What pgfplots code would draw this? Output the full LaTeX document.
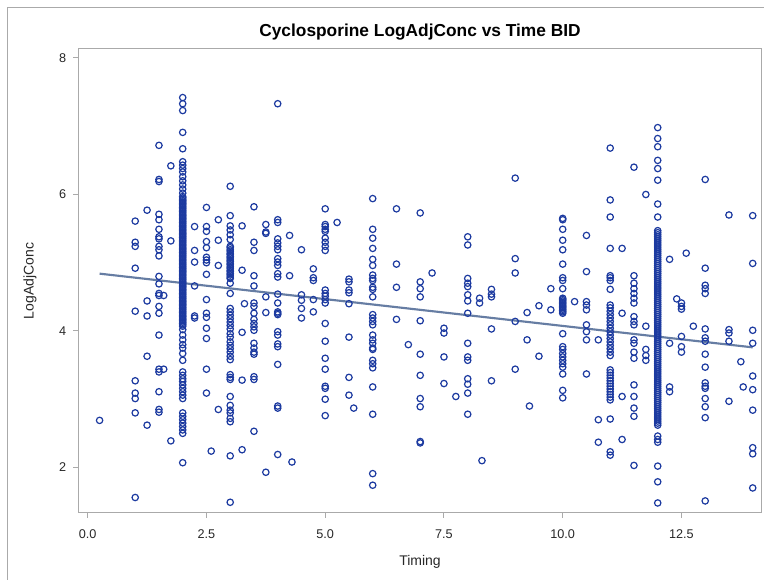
\documentclass[border=0pt]{standalone}
\usepackage{pgfplots}
\pgfplotsset{compat=1.18}
\usepackage{fontspec}
\setmainfont{Liberation Sans}
\definecolor{markblue}{RGB}{28,58,160}
\definecolor{fitline}{RGB}{102,125,163}
\definecolor{framegray}{RGB}{170,170,170}
\definecolor{labelgray}{RGB}{40,40,40}

\begin{document}
\begin{tikzpicture}[x=1pt,y=1pt]
\useasboundingbox[fill=white] (-58.875,-50.25) rectangle (514.125,384.75);
% graph border (left and top edges)
\draw[framegray, line width=0.75pt] (-52.875,-50.25) -- (-52.875,378.75) -- (514.125,378.75);
\begin{axis}[
  at={(0,0)}, anchor=south west,
  scale only axis, width=512.25pt, height=348pt,
  xmin=-0.194, xmax=14.185, ymin=1.333, ymax=8.132,
  xtick={0,2.5,5,7.5,10,12.5},
  xticklabels={0.0,2.5,5.0,7.5,10.0,12.5},
  ytick={2,4,6,8}, yticklabels={2,4,6,8},
  xtick pos=left, ytick pos=left,
  tick align=outside, major tick length=3.75pt,
  axis line style={framegray, line width=0.75pt},
  tick style={framegray, line width=0.75pt},
  ticklabel style={font=\fontsize{9.5}{11}\selectfont, text=labelgray},
  xticklabel style={yshift=-5.5pt},
  yticklabel style={xshift=-2pt},
  xlabel={Timing}, ylabel={LogAdjConc},
  label style={font=\fontsize{10.5}{12}\selectfont, text=labelgray},
  xlabel style={at={(axis description cs:0.5,0)}, anchor=center, yshift=-36.5pt},
  ylabel style={at={(axis description cs:0,0.5)}, anchor=center, yshift=36.4pt},
  title={Cyclosporine LogAdjConc vs Time BID},
  title style={font=\fontsize{13}{15}\selectfont\bfseries, at={(axis description cs:0.5,1)}, anchor=center, yshift=6.75pt},
  clip=true,
]
% linear fit
\addplot[fitline, line width=1.6pt] coordinates {(0.25,4.84) (14,3.76)};
% observations
\addplot[only marks, mark=o, mark size=2.4pt, markblue, mark options={line width=0.9pt}] coordinates {
(0.25,2.69)
(1,5.61) (1,5.30) (1,5.24) (1,4.92) (1,4.29) (1,3.27) (1,3.09) (1,3.01) (1,2.80) (1,1.56)
(1.25,5.77) (1.25,4.44) (1.25,4.22) (1.25,3.63) (1.25,2.62)
(1.5,6.72) (1.5,6.22) (1.5,6.19) (1.5,5.71) (1.5,5.63) (1.5,5.49) (1.5,5.38) (1.5,5.35) (1.5,5.24) (1.5,5.19) (1.5,5.10) (1.5,4.80) (1.5,4.69) (1.5,4.55) (1.5,4.52) (1.5,4.36) (1.5,4.26) (1.5,3.94) (1.5,3.44) (1.5,3.40) (1.5,3.11) (1.5,2.85) (1.5,2.81)
(1.6,4.52) (1.6,3.44)
(1.75,6.42) (1.75,5.32) (1.75,2.39)
(2,7.42) (2,7.33) (2,7.23) (2,6.91) (2,6.67) (2,6.48) (2,6.43) (2,6.38) (2,6.33) (2,6.26) (2,6.20) (2,6.14) (2,6.08) (2,6.02)
(2,5.97) (2,5.95) (2,5.93) (2,5.91) (2,5.89) (2,5.87) (2,5.85) (2,5.83) (2,5.81) (2,5.79) (2,5.77) (2,5.75) (2,5.73) (2,5.71) (2,5.69) (2,5.67) (2,5.65) (2,5.63) (2,5.61) (2,5.59) (2,5.57) (2,5.55) (2,5.53) (2,5.51) (2,5.49) (2,5.47) (2,5.45) (2,5.43) (2,5.41) (2,5.39) (2,5.37) (2,5.35) (2,5.33) (2,5.31) (2,5.29) (2,5.27) (2,5.25) (2,5.23) (2,5.21) (2,5.19) (2,5.17) (2,5.15) (2,5.13) (2,5.11) (2,5.09) (2,5.07) (2,5.05) (2,5.03) (2,5.01) (2,4.99) (2,4.97) (2,4.95) (2,4.93) (2,4.91) (2,4.89) (2,4.87) (2,4.85) (2,4.83) (2,4.81) (2,4.79) (2,4.77) (2,4.75) (2,4.73) (2,4.71) (2,4.69) (2,4.67) (2,4.65) (2,4.63) (2,4.61) (2,4.59) (2,4.57) (2,4.55) (2,4.53) (2,4.51) (2,4.49) (2,4.47) (2,4.45) (2,4.43) (2,4.41) (2,4.39) (2,4.37) (2,4.35) (2,4.33) (2,4.31) (2,4.29) (2,4.27) (2,4.25) (2,4.23) (2,4.21) (2,4.19) (2,4.17) (2,4.15) (2,4.13) (2,4.11) (2,4.09) (2,4.07)
(2,4.02) (2,3.94) (2,3.87) (2,3.80) (2,3.75) (2,3.67) (2,3.57) (2,3.40) (2,3.35) (2,3.30) (2,3.26) (2,3.21) (2,3.16) (2,3.11) (2,3.06) (2,3.01) (2,2.80) (2,2.75) (2,2.70) (2,2.65) (2,2.60) (2,2.55) (2,2.50) (2,2.07)
(2.25,5.53) (2.25,5.18) (2.25,5.01) (2.25,4.66) (2.25,4.22) (2.25,4.19)
(2.5,5.81) (2.5,5.53) (2.5,5.46) (2.5,5.31) (2.5,5.22) (2.5,5.08) (2.5,5.04) (2.5,5.00) (2.5,4.83) (2.5,4.46) (2.5,4.26) (2.5,4.20) (2.5,4.04) (2.5,3.89) (2.5,3.44) (2.5,3.09)
(2.6,2.24)
(2.75,5.63) (2.75,5.33) (2.75,4.96) (2.75,2.85)
(3,6.12) (3,5.69) (3,5.54) (3,5.48) (3,5.41) (3,5.34)
(3,5.24) (3,5.22) (3,5.19) (3,5.17) (3,5.14) (3,5.12) (3,5.09) (3,5.07) (3,5.04) (3,5.02) (3,4.99) (3,4.97) (3,4.94) (3,4.92) (3,4.89) (3,4.87) (3,4.84) (3,4.82) (3,4.79) (3,4.77) (3,4.70) (3,4.55)
(3,4.33) (3,4.28) (3,4.23) (3,4.18) (3,4.13) (3,4.08) (3,4.03) (3,3.96) (3,3.91) (3,3.84) (3,3.79) (3,3.74) (3,3.69) (3,3.63) (3,3.58)
(3,3.36) (3,3.32) (3,3.29) (3,3.04) (3,2.91) (3,2.84) (3,2.80) (3,2.72) (3,2.67) (3,2.17) (3,1.49)
(3.25,5.54) (3.25,4.89) (3.25,3.98) (3.25,3.28) (3.25,2.26)
(3.3,4.40)
(3.5,5.82) (3.5,5.30) (3.5,5.18) (3.5,4.81) (3.5,4.66) (3.5,4.41) (3.5,4.36) (3.5,4.26) (3.5,4.17) (3.5,4.11) (3.5,4.06) (3.5,4.01) (3.5,3.82) (3.5,3.75) (3.5,3.69) (3.5,3.66) (3.5,3.33) (3.5,3.29) (3.5,2.53)
(3.75,5.56) (3.75,5.45) (3.75,5.43) (3.75,4.50) (3.75,4.27) (3.75,1.93)
(4,7.33) (4,5.63) (4,5.59) (4,5.35) (4,5.29) (4,5.24) (4,5.19) (4,5.06) (4,5.01) (4,4.96) (4,4.84) (4,4.79) (4,4.54) (4,4.41) (4,4.28) (4,4.26) (4,4.24) (4,3.99) (4,3.94) (4,3.81) (4,3.77) (4,3.51) (4,2.90) (4,2.87) (4,2.19)
(4.25,5.40) (4.25,4.81)
(4.3,2.08)
(4.5,5.19) (4.5,4.53) (4.5,4.45) (4.5,4.33) (4.5,4.19)
(4.75,4.91) (4.75,4.78) (4.75,4.74) (4.75,4.46) (4.75,4.28)
(5,5.79) (5,5.56) (5,5.53) (5,5.49) (5,5.46) (5,5.36) (5,5.30) (5,5.24) (5,5.18) (5,4.60) (5,4.55) (5,4.51) (5,4.46) (5,4.41) (5,4.11) (5,3.85) (5,3.60) (5,3.44) (5,3.19) (5,3.16) (5,3.00) (5,2.76)
(5.25,5.59)
(5.5,4.76) (5.5,4.72) (5.5,4.60) (5.5,4.56) (5.5,4.40) (5.5,3.91) (5.5,3.32) (5.5,3.06)
(5.6,2.87)
(6,5.94) (6,5.49) (6,5.36) (6,5.21) (6,5.05) (6,4.96) (6,4.82) (6,4.77) (6,4.74) (6,4.64) (6,4.61) (6,4.50) (6,4.24) (6,4.19) (6,4.14) (6,4.09) (6,3.94) (6,3.87) (6,3.82) (6,3.75) (6,3.73) (6,3.57) (6,3.52) (6,3.46) (6,3.18) (6,2.78) (6,1.91) (6,1.74)
(6.5,5.79) (6.5,4.98) (6.5,4.64) (6.5,4.17)
(6.75,3.80)
(7,5.73) (7,4.72) (7,4.62) (7,4.50) (7,4.15) (7,3.66) (7,3.35) (7,3.01) (7,2.89) (7,2.38) (7,2.36)
(7.25,4.85)
(7.5,4.04) (7.5,3.97) (7.5,3.62) (7.5,3.23)
(7.75,3.04)
(8,5.38) (8,5.26) (8,4.77) (8,4.70) (8,4.65) (8,4.53) (8,4.44) (8,4.26) (8,3.82) (8,3.62) (8,3.57) (8,3.30) (8,3.22) (8,3.09) (8,2.78)
(8.25,4.48) (8.25,4.41)
(8.3,2.10)
(8.5,4.61) (8.5,4.54) (8.5,4.50) (8.5,4.03) (8.5,3.27)
(9,6.24) (9,5.06) (9,4.85) (9,4.14) (9,3.44)
(9.25,4.27) (9.25,3.87)
(9.3,2.90)
(9.5,4.37) (9.5,3.63)
(9.75,4.62) (9.75,4.31)
(10,5.65) (10,5.63) (10,5.49) (10,5.33) (10,5.19) (10,4.98) (10,4.78) (10,4.74) (10,4.62) (10,4.48) (10,4.46) (10,4.44) (10,4.42) (10,4.40) (10,4.38) (10,4.36) (10,4.34) (10,4.32) (10,4.30) (10,4.28) (10,4.26) (10,3.96) (10,3.77) (10,3.73) (10,3.67) (10,3.62) (10,3.57) (10,3.52) (10,3.47) (10,3.37) (10,3.13) (10,3.02)
(10.25,4.43)
(10.5,5.40) (10.5,4.87) (10.5,4.43) (10.5,4.38) (10.5,4.31) (10.5,4.09) (10.5,3.99) (10.5,3.87) (10.5,3.37)
(10.75,3.87) (10.75,2.70) (10.75,2.37)
(11,6.68) (11,5.92) (11,5.67) (11,5.21) (11,4.81) (11,4.78) (11,4.74) (11,4.61)
(11,4.38) (11,4.34) (11,4.29) (11,4.24) (11,4.19) (11,4.14) (11,4.09) (11,4.04) (11,3.99) (11,3.94) (11,3.89) (11,3.84) (11,3.79) (11,3.74) (11,3.69) (11,3.64)
(11,3.43) (11,3.39) (11,3.35) (11,3.31) (11,3.27) (11,3.23) (11,3.19) (11,3.15) (11,3.11) (11,3.07) (11,3.03) (11,2.99) (11,2.71) (11,2.23) (11,2.18)
(11.25,5.21) (11.25,4.26) (11.25,3.04) (11.25,2.41)
(11.5,6.40) (11.5,4.81) (11.5,4.70) (11.5,4.62) (11.5,4.55) (11.5,4.48) (11.5,4.41) (11.5,4.21) (11.5,4.14) (11.5,4.09) (11.5,3.87) (11.5,3.82) (11.5,3.69) (11.5,3.60) (11.5,3.21) (11.5,3.04) (11.5,2.87) (11.5,2.75) (11.5,2.03)
(11.75,6.00) (11.75,4.07) (11.75,3.73) (11.75,3.64) (11.75,3.57)
(12,6.98) (12,6.82) (12,6.70) (12,6.50) (12,6.38) (12,6.21) (12,5.86) (12,5.67)
(12,5.47) (12,5.44) (12,5.41) (12,5.38) (12,5.35) (12,5.32) (12,5.29) (12,5.26) (12,5.23) (12,5.20) (12,5.17) (12,5.14) (12,5.11) (12,5.08) (12,5.05) (12,5.02) (12,4.99) (12,4.96) (12,4.93) (12,4.90) (12,4.87) (12,4.84) (12,4.81) (12,4.78) (12,4.75) (12,4.72) (12,4.69) (12,4.66) (12,4.63) (12,4.60) (12,4.57) (12,4.54) (12,4.51) (12,4.48) (12,4.45) (12,4.42) (12,4.39) (12,4.36) (12,4.33) (12,4.30) (12,4.27) (12,4.24) (12,4.21) (12,4.18) (12,4.15) (12,4.12) (12,4.09) (12,4.06) (12,4.03) (12,4.00) (12,3.97) (12,3.94) (12,3.91) (12,3.88) (12,3.85) (12,3.82) (12,3.79) (12,3.76) (12,3.73) (12,3.70) (12,3.67) (12,3.64) (12,3.61) (12,3.58) (12,3.55) (12,3.52) (12,3.49) (12,3.46) (12,3.43) (12,3.40) (12,3.37) (12,3.34) (12,3.31) (12,3.28) (12,3.25) (12,3.22) (12,3.19) (12,3.16) (12,3.13) (12,3.10) (12,3.07) (12,3.04) (12,3.01) (12,2.98) (12,2.95) (12,2.92) (12,2.89) (12,2.86) (12,2.83) (12,2.80) (12,2.77) (12,2.74) (12,2.71) (12,2.68) (12,2.65) (12,2.62)
(12,2.46) (12,2.41) (12,2.37) (12,2.02) (12,1.79) (12,1.48)
(12.25,5.05) (12.25,3.82) (12.25,3.18) (12.25,3.11)
(12.4,4.47)
(12.5,4.41) (12.5,4.36) (12.5,4.32) (12.5,3.92) (12.5,3.77) (12.5,3.69)
(12.6,5.14)
(12.75,4.07)
(13,6.22) (13,4.92) (13,4.67) (13,4.62) (13,4.55) (13,4.03) (13,3.90) (13,3.85) (13,3.66) (13,3.47) (13,3.24) (13,3.19) (13,3.16) (13,3.01) (13,2.89) (13,2.73) (13,1.51)
(13.5,5.70) (13.5,4.02) (13.5,3.97) (13.5,3.85) (13.5,2.97)
(13.75,3.55)
(13.8,3.18)
(14,5.69) (14,4.99) (14,4.01) (14,3.82) (14,3.34) (14,3.14) (14,2.84) (14,2.29) (14,2.20) (14,1.70)
};
\end{axis}
\end{tikzpicture}
\end{document}
